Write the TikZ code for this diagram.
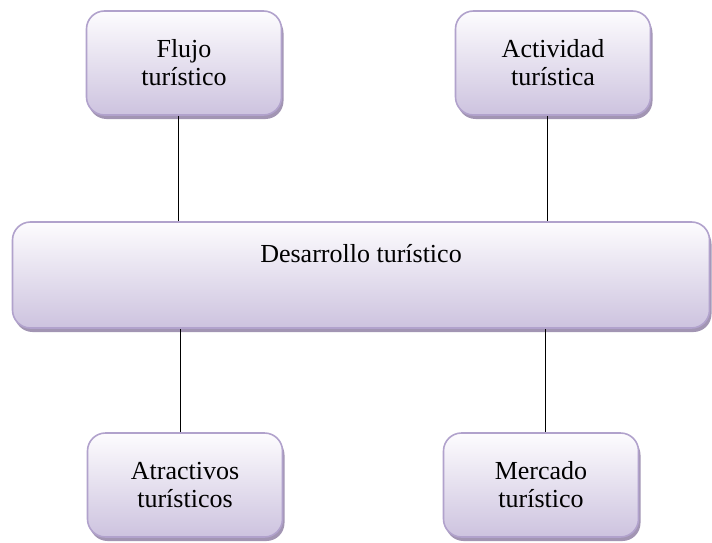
\documentclass[tikz,border=0pt]{standalone}
\usepackage{fontspec}
\setmainfont{Liberation Serif}
\usetikzlibrary{positioning, shadows}
\definecolor{lilaTop}{HTML}{FDFCFE}
\definecolor{lilaBot}{HTML}{CDC3DF}
\definecolor{lilaLine}{HTML}{B1A2CC}
\definecolor{lilaShadow}{HTML}{A295B3}
\tikzset{
	tema/.style={
		draw=lilaLine,
		line width=1.6pt,
		rectangle,
		rounded corners=18pt,
		top color=lilaTop,
		bottom color=lilaBot,
		general shadow={fill=lilaShadow, shadow xshift=2pt, shadow yshift=-4pt},
		minimum width=195pt,
		minimum height=104pt,
		align=center,
		text=black,
		font=\fontsize{26}{28}\selectfont
	},
	link/.style={
		draw=black,
		line width=1pt
	},
}

\begin{document}
\begin{tikzpicture}[x=1pt, y=-1pt]
\useasboundingbox (0,0) rectangle (712,543);

% Central
\node[tema, minimum width=697pt, minimum height=106pt,
	text height=17pt, text depth=43pt] (Des) at (361,275) {Desarrollo turístico};

% Top
\node[tema] (Flujo) at (184,63) {Flujo\\turístico};
\node[tema] (Act) at (553,63) {Actividad\\turística};

% Bottom
\node[tema] (Atr) at (185,485) {Atractivos\\turísticos};
\node[tema] (Merc) at (541,485) {Mercado\\turístico};

% Lines
\draw [link] (Flujo.south) ++(-6,0) coordinate (f1) -- (f1 |- Des.north);
\draw [link] (Act.south) ++(-6,0) coordinate (a1) -- (a1 |- Des.north);
\draw [link] (Atr.north) ++(-5,0) coordinate (t1) -- (t1 |- Des.south);
\draw [link] (Merc.north) ++(4,0) coordinate (m1) -- (m1 |- Des.south);

\end{tikzpicture}
\end{document}
